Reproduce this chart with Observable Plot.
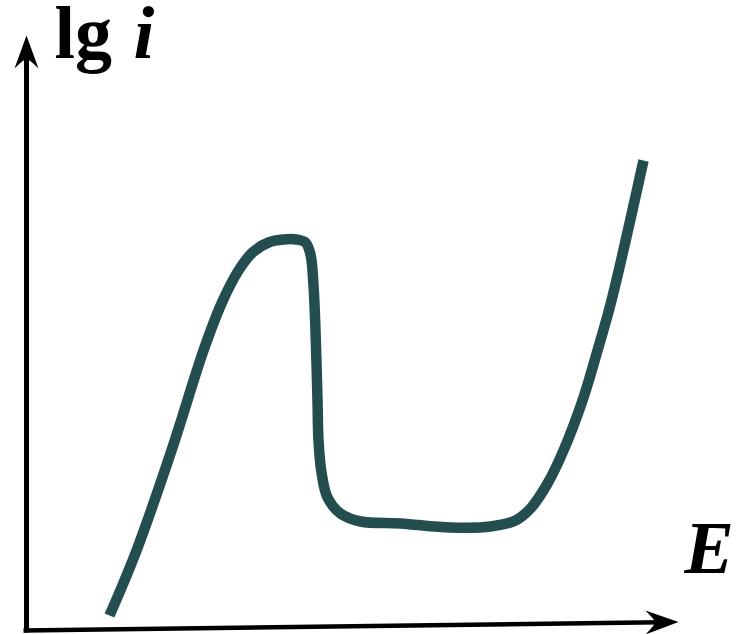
<!DOCTYPE html>
<html>
<head>
<meta charset="utf-8">
<script src="https://cdn.jsdelivr.net/npm/d3@7"></script>
<script src="https://cdn.jsdelivr.net/npm/@observablehq/plot@0.6"></script>
<style>
  html, body { margin: 0; padding: 0; background: #fff; }
  svg { display: block; }
</style>
</head>
<body>
<div id="chart"></div>
<script>
// Potential E (arbitrary units) and lg i (arbitrary units) along the curve
const curveE   = [83, 110, 145, 177, 195, 212, 226, 242, 257, 270, 279, 284, 287, 289, 291, 292, 295, 301, 314, 334, 374, 424, 464, 489, 504, 521, 537, 556, 571, 585, 617];
const curveLgI = [15, 80, 180, 280, 327, 360, 378, 388, 391, 391, 388, 376, 345, 300, 230, 190, 158, 133, 117, 109, 107, 103, 104, 110, 122, 147, 180, 230, 280, 330, 470];

// Axis labels
const yLabelMain = "lg";
const yLabelVar = "i";
const xLabel = "E";

// Axis extents (data units)
const xAxisE = [-3, 634];
const xAxisL = [0, 8.2];
const yAxisE = [0, 0];
const yAxisL = [-2, 582];
const arrowTips = [
  {E: 652, L: 8.5, rot: 89.3},
  {E: 0, L: 595, rot: 0}
];

const curve = curveE.map((e, i) => ({E: e, L: curveLgI[i]}));

const arrowHead = {
  draw(ctx) {
    ctx.moveTo(0, 0);
    ctx.lineTo(12, 33);
    ctx.quadraticCurveTo(4, 25, 0, 23);
    ctx.quadraticCurveTo(-4, 25, -12, 33);
    ctx.closePath();
  }
};

const chart = Plot.plot({
  width: 736,
  height: 634,
  margin: 0,
  x: {domain: [-26, 710], range: [0, 736], axis: null},
  y: {domain: [-4, 630], range: [634, 0], axis: null},
  marks: [
    Plot.line(xAxisE.map((e, i) => ({E: e, L: xAxisL[i]})), {x: "E", y: "L", stroke: "black", strokeWidth: 4.5, strokeLinecap: "butt"}),
    Plot.line(yAxisE.map((e, i) => ({E: e, L: yAxisL[i]})), {x: "E", y: "L", stroke: "black", strokeWidth: 5, strokeLinecap: "butt"}),
    Plot.dot(arrowTips, {x: "E", y: "L", rotate: "rot", symbol: arrowHead, fill: "black", stroke: "none"}),
    Plot.line(curve, {x: "E", y: "L", curve: "catmull-rom", stroke: "#244d4f", strokeWidth: 10.5, strokeLinecap: "butt", strokeLinejoin: "round"}),
    Plot.text([yLabelMain], {x: 28, y: 573, text: d => d, textAnchor: "start", lineAnchor: "bottom", fontSize: 74, fontWeight: "bold", fontFamily: "Liberation Serif", fill: "black"}),
    Plot.text([yLabelVar], {x: 107, y: 573, text: d => d, textAnchor: "start", lineAnchor: "bottom", fontSize: 75, fontWeight: "bold", fontStyle: "italic", fontFamily: "Liberation Serif", fill: "black"}),
    Plot.text([xLabel], {x: 658, y: 58, text: d => d, textAnchor: "start", lineAnchor: "bottom", fontSize: 74, fontWeight: "bold", fontStyle: "italic", fontFamily: "Liberation Serif", fill: "black"})
  ]
});
document.getElementById("chart").appendChild(chart);
</script>
</body>
</html>
